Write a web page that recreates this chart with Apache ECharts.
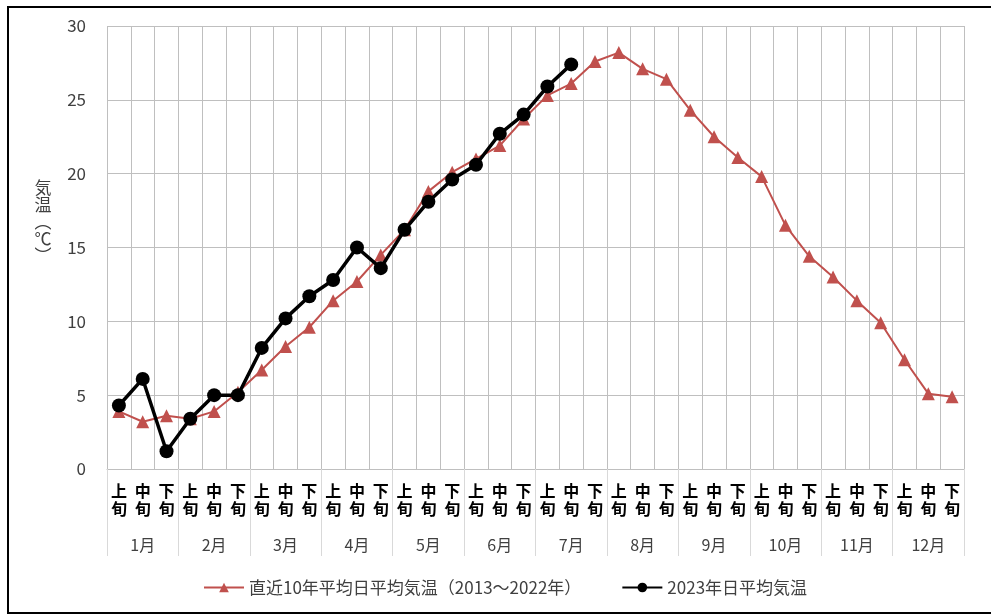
<!DOCTYPE html>
<html><head><meta charset="utf-8">
<script src="https://cdn.jsdelivr.net/npm/echarts@6/dist/echarts.min.js"></script>
<style>html,body{margin:0;padding:0;background:#fff}#c{width:991px;height:615px}</style>
</head><body><div id="c"></div>
<script>
const junLabels = ['上\n旬','中\n旬','下\n旬','上\n旬','中\n旬','下\n旬','上\n旬','中\n旬','下\n旬','上\n旬','中\n旬','下\n旬','上\n旬','中\n旬','下\n旬','上\n旬','中\n旬','下\n旬','上\n旬','中\n旬','下\n旬','上\n旬','中\n旬','下\n旬','上\n旬','中\n旬','下\n旬','上\n旬','中\n旬','下\n旬','上\n旬','中\n旬','下\n旬','上\n旬','中\n旬','下\n旬'];
const months = ['1月','2月','3月','4月','5月','6月','7月','8月','9月','10月','11月','12月'];
const avg10 = [3.9,3.2,3.6,3.4,3.9,5.2,6.7,8.3,9.6,11.4,12.7,14.5,16.2,18.8,20.1,21.0,21.9,23.7,25.3,26.1,27.6,28.2,27.1,26.4,24.3,22.5,21.1,19.8,16.5,14.4,13.0,11.4,9.9,7.4,5.1,4.9];
const y2023 = [4.3,6.1,1.2,3.4,5.0,5.0,8.2,10.2,11.7,12.8,15.0,13.6,16.2,18.1,19.6,20.6,22.7,24.0,25.9,27.4];
const yTicks = [0,5,10,15,20,25,30];
const seriesNames = ['直近10年平均日平均気温（2013～2022年）','2023年日平均気温'];
const yTitle = '気\n温\n︵\n℃\n︶';
const FONT = '"Noto Sans CJK JP", "Noto Sans", sans-serif';

const chart = echarts.init(document.getElementById('c'));
chart.setOption({
  animation: false,
  textStyle: {fontFamily: FONT},
  graphic: [{
    type: 'rect', shape: {x: 8, y: 7, width: 1000, height: 606},
    style: {fill: 'none', stroke: '#000', lineWidth: 2}, silent: true, z: 100
  }, {
    type: 'text', x: 43, y: 222,
    style: {text: yTitle, font: '17px ' + FONT, fill: '#404040', align: 'center', verticalAlign: 'middle', lineHeight: 17}
  }],
  grid: {left: 107, right: 27, top: 26, bottom: 146},
  legend: {
    top: 574, left: 198, itemWidth: 40, itemHeight: 12, itemGap: 40,
    textStyle: {fontSize: 17, color: '#404040', fontFamily: FONT},
    data: seriesNames
  },
  xAxis: [{
    type: 'category', data: junLabels, boundaryGap: true,
    axisLine: {show: true, lineStyle: {color: '#BFBFBF', width: 1}},
    axisTick: {show: false},
    splitLine: {show: true, interval: 0, lineStyle: {color: '#BFBFBF', width: 1}},
    axisLabel: {interval: 0, margin: 13, fontSize: 16, fontWeight: 'bold', lineHeight: 18, color: '#000', fontFamily: FONT}
  }, {
    type: 'category', data: months, position: 'bottom', boundaryGap: true,
    axisLine: {show: false},
    axisTick: {show: true, interval: 0, length: 87, lineStyle: {color: '#D9D9D9', width: 1}},
    axisLabel: {interval: 0, margin: 68, fontSize: 16, color: '#404040', fontFamily: FONT}
  }],
  yAxis: {
    type: 'value', min: yTicks[0], max: yTicks[yTicks.length-1], interval: 5,
    axisLine: {show: false}, axisTick: {show: false},
    splitLine: {lineStyle: {color: '#BFBFBF', width: 1}},
    axisLabel: {fontSize: 17, color: '#404040', margin: 21, fontFamily: FONT}
  },
  series: [{
    name: seriesNames[0], type: 'line', data: avg10, xAxisIndex: 0,
    symbol: 'triangle', symbolSize: 13,
    lineStyle: {color: '#C0504D', width: 2},
    itemStyle: {color: '#C0504D'}, z: 2
  }, {
    name: seriesNames[1], type: 'line', data: y2023, xAxisIndex: 0,
    symbol: 'circle', symbolSize: 14,
    lineStyle: {color: '#000', width: 3.5},
    itemStyle: {color: '#000'}, z: 3
  }]
});
</script></body></html>
